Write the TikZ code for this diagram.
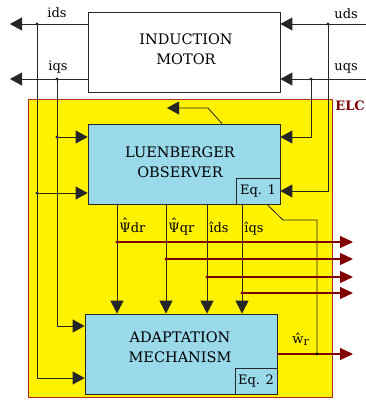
\documentclass[tikz,border=0pt]{standalone}
\usepackage{fontspec}
\setmainfont{DejaVu Serif}
\usetikzlibrary{arrows.meta,positioning,calc}
\tikzset{every picture/.style={line width=0.75pt}}
\definecolor{elcyellow}{RGB}{255,242,0}
\definecolor{elcborder}{RGB}{176,40,40}
\definecolor{boxblue}{RGB}{153,217,234}
\definecolor{sigred}{RGB}{128,0,0}
\newcommand\hatpsi{\ooalign{Ψ\cr\hidewidth\raisebox{3.5pt}{ˆ}\hidewidth\cr}}
\tikzset{
  blockbox/.style={draw=black!85, minimum width=192pt, minimum height=80pt, inner sep=0pt},
  eqbox/.style={draw=black!85, fill=boxblue, minimum height=26pt, inner sep=0pt, font=\fontsize{13}{15}\selectfont},
  titletext/.style={align=center, inner sep=0pt, font=\fontsize{14.5}{19.5}\selectfont},
  sigtext/.style={inner sep=0pt, font=\fontsize{13}{15}\selectfont},
  sigline/.style={black!85, line width=0.8pt},
  redline/.style={sigred, line width=1.1pt},
  blkarrow/.style={-{Triangle[length=12pt,width=13pt]}},
  redarrow/.style={-{Triangle[length=13pt,width=12pt]}}
}

\begin{document}
\begin{tikzpicture}[x=1pt, y=-1pt]
    \useasboundingbox (0,0) rectangle (366,401);

    % ELC 区域
    \draw[fill=elcyellow, draw=elcborder, line width=1pt] (28,100) rectangle (332,397);
    \node[anchor=north west, inner sep=0pt, text=sigred, font=\bfseries\fontsize{13}{15}\selectfont] (elclabel) at (335,100) {ELC};

    % 方框
    \node[blockbox, fill=white] (motor) at (184,52) {};
    \node[titletext] (motortitle) at (186,49) {INDUCTION\\MOTOR};
    \node[blockbox, fill=boxblue] (observer) at (184,164) {};
    \node[titletext] (observertitle) at (180,162) {LUENBERGER\\OBSERVER};
    \node[eqbox, minimum width=44pt, anchor=south east] (eqone) at (observer.south east) {Eq. 1};
    \node[blockbox, fill=boxblue] (adapt) at (181,354) {};
    \node[titletext] (adapttitle) at (180,347) {ADAPTATION\\MECHANISM};
    \node[eqbox, minimum width=42pt, anchor=south east] (eqtwo) at (adapt.south east) {Eq. 2};

    % 电机输出 ids, iqs
    \coordinate (idsout) at (10,24);
    \coordinate (iqsout) at (10,79);
    \coordinate (idsdot) at (37,24);
    \coordinate (iqsdot) at (57,79);
    \draw[sigline, blkarrow] (motor.west |- idsout) -- (idsout);
    \draw[sigline, blkarrow] (motor.west |- iqsout) -- (iqsout);
    \node[sigtext, anchor=base west] (idslabel) at (47,18) {ids};
    \node[sigtext, anchor=base west] (iqslabel) at (48,71) {iqs};

    % 电机输入 uds, uqs
    \coordinate (udsin) at (366,24);
    \coordinate (uqsin) at (366,79);
    \coordinate (udsdot) at (328,24);
    \coordinate (uqsdot) at (311,79);
    \draw[sigline, blkarrow] (udsin) -- (motor.east |- udsin);
    \draw[sigline, blkarrow] (uqsin) -- (motor.east |- uqsin);
    \node[sigtext, anchor=base west] (udslabel) at (334,19) {uds};
    \node[sigtext, anchor=base west] (uqslabel) at (334,71) {uqs};

    % 观测器输入
    \coordinate (idsobs) at (37,193);
    \coordinate (iqsobs) at (57,137);
    \coordinate (uqsobs) at (311,137);
    \draw[sigline, blkarrow] (idsobs) -- (observer.west |- idsobs);
    \draw[sigline, blkarrow] (iqsobs) -- (observer.west |- iqsobs);
    \draw[sigline, blkarrow] (uqsdot) -- (uqsobs) -- (observer.east |- uqsobs);
    \draw[sigline, blkarrow] (udsdot) |- (eqone.east);

    % 自适应机构输入
    \coordinate (idsadapt) at (37,378);
    \coordinate (iqsadapt) at (57,326);
    \draw[sigline, blkarrow] (idsdot) -- (idsadapt) -- (adapt.west |- idsadapt);
    \draw[sigline, blkarrow] (iqsdot) -- (iqsadapt) -- (adapt.west |- iqsadapt);
    \foreach \p in {idsdot, iqsdot, udsdot, uqsdot, idsobs, iqsobs}
        \fill[black!85] (\p) circle (1.6pt);

    % 上方箭头
    \coordinate (notebend) at (208,108);
    \coordinate (notetip) at (167,108);
    \draw[sigline, blkarrow] ($(observer.north)+(38,0)$) -- (notebend) -- (notetip);

    % 估计量
    \foreach \name/\xx/\yy/\txt in {psidr/117/242/\hatpsi dr, psiqr/166/259/\hatpsi qr, idshat/207/277/îds, iqshat/242/293/îqs} {
        \coordinate (tap\name) at (\xx,\yy);
        \coordinate (out\name) at (353,\yy);
        \draw[sigline, -{Triangle[length=13pt,width=13pt]}] (observer.south -| tap\name) -- (adapt.north -| tap\name);
        \node[sigtext, anchor=base west] (label\name) at (\xx+2,232) {\txt};
    }

    % 速度反馈
    \coordinate (fbbend) at (283,220);
    \coordinate (fbcorner) at (317,220);
    \coordinate (wrdot) at (317,354);
    \coordinate (wrout) at (353,354);
    \draw[sigline] ($(eqone.south)+(9,0)$) -- (fbbend) -- (fbcorner) -- (wrdot);

    % 红色输出
    \foreach \name in {psidr, psiqr, idshat, iqshat} {
        \draw[redline, redarrow] (tap\name) -- (out\name);
        \fill[sigred] (tap\name) circle (1.6pt);
    }
    \draw[redline, redarrow] (adapt.east) -- (wrout);
    \fill[black] (wrdot) circle (1.6pt);
    \node[sigtext, anchor=base west] (wrlabel) at (292,343) {ŵ\lower2pt\hbox{\fontsize{11}{13}\selectfont r}};
\end{tikzpicture}
\end{document}
